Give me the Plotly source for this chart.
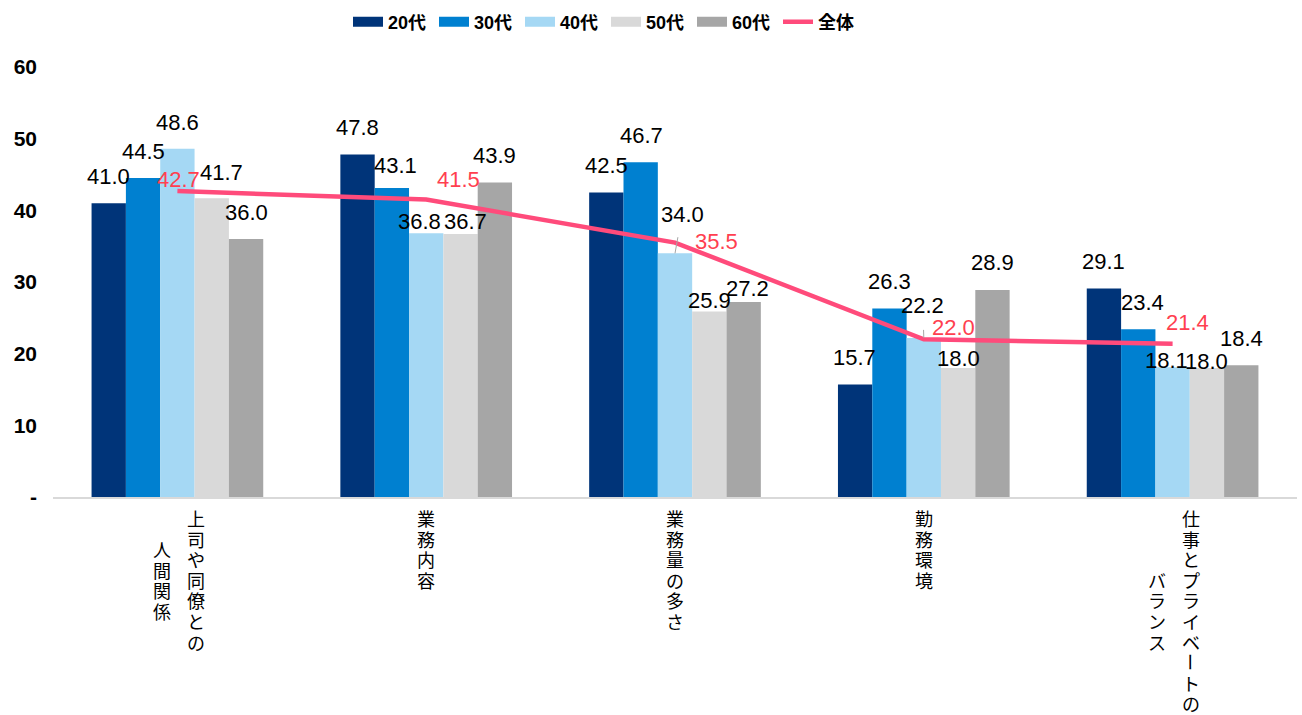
import plotly.graph_objects as go

# ---------------- data ----------------
category_lines = [
    ["上司や同僚との", "人間関係"],
    ["業務内容"],
    ["業務量の多さ"],
    ["勤務環境"],
    ["仕事とプライベートの", "バランス"],
]
categories = ["".join(c) for c in category_lines]

series_names = ["20代", "30代", "40代", "50代", "60代"]
v20 = [41.0, 47.8, 42.5, 15.7, 29.1]
v30 = [44.5, 43.1, 46.7, 26.3, 23.4]
v40 = [48.6, 36.8, 34.0, 22.2, 18.1]
v50 = [41.7, 36.7, 25.9, 18.0, 18.0]
v60 = [36.0, 43.9, 27.2, 28.9, 18.4]
total_name = "全体"
total = [42.7, 41.5, 35.5, 22.0, 21.4]

y_tickvals = [0, 10, 20, 30, 40, 50, 60]
y_ticktext = ["-", "10", "20", "30", "40", "50", "60"]

# ---------------- style ----------------
colors = ["#003479", "#0080D0", "#A5D8F4", "#D9D9D9", "#A6A6A6"]
line_color = "#FF4B7B"
red_text = "#FF3F50"
FONT_LAT = "Liberation Sans, Arial, Noto Sans CJK JP, sans-serif"
FONT_JP = "Noto Sans CJK JP, sans-serif"

W, H = 1302, 715
ML, MR, MT, MB = 53, 5, 67, 218
plot_w = W - ML - MR
plot_h = H - MT - MB
BARGAP = 0.31
bar_w = plot_w / len(categories) * (1 - BARGAP) / len(series_names)

# label nudges (dy = px above bar top for label centre, dx = px right)
DEFAULT_DY = 27
nudges = {
    (0, 2): (26.5, 0), (0, 3): (26, 10),
    (1, 1): (23, 4), (1, 2): (12, -7), (1, 3): (12, 5),
    (2, 1): (27, 1), (2, 2): (39, 7), (2, 3): (11, 0), (2, 4): (14, 4),
    (3, 0): (27, -1), (3, 2): (32, -1), (3, 3): (10, 0),
    (4, 1): (27, 4), (4, 2): (7, -6), (4, 3): (7, 0),
}
leaders = {(2, 2): 9, (3, 2): 10}  # startstandoff for leader lines
total_nudges = [(1, 11), (32, 20), (41, 1), (30, 12), (15, 21)]

all_series = [v20, v30, v40, v50, v60]
LABEL_SIZE = 22

fig = go.Figure()
for i, (name, vals) in enumerate(zip(series_names, all_series)):
    fig.add_trace(go.Bar(
        x=categories, y=vals, name=name, marker=dict(color=colors[i], line=dict(width=0)),
        showlegend=False, hoverinfo="skip",
    ))

# legend-only swatches
for i, name in enumerate(series_names):
    fig.add_trace(go.Scatter(
        x=[None], y=[None], mode="lines", name=name,
        line=dict(color=colors[i], width=10), showlegend=True,
    ))

fig.add_trace(go.Scatter(
    x=categories, y=total, mode="lines", name=total_name,
    line=dict(color=line_color, width=4.5), showlegend=True,
))

annotations = []
# bar labels
for i, vals in enumerate(all_series):
    for c, (cat, v) in enumerate(zip(categories, vals)):
        dy, dx = nudges.get((c, i), (DEFAULT_DY, 0))
        base_shift = (i - 2) * bar_w
        a = dict(x=cat, y=v, xref="x", yref="y", text=f"{v:.1f}",
                 font=dict(family=FONT_LAT, size=LABEL_SIZE, color="#000000"))
        if (c, i) in leaders:
            a.update(showarrow=True, ax=dx, ay=-dy, arrowhead=0, arrowwidth=1,
                     arrowcolor="#A6A6A6", startstandoff=leaders[(c, i)],
                     xshift=base_shift)
        else:
            a.update(showarrow=False, xshift=base_shift + dx, yshift=dy,
                     yanchor="middle", xanchor="center")
        annotations.append(a)

# total line labels
for c, (cat, v) in enumerate(zip(categories, total)):
    dx, dy = total_nudges[c]
    annotations.append(dict(x=cat, y=v, xref="x", yref="y", text=f"{v:.1f}",
                            showarrow=False, xshift=dx, yshift=dy,
                            xanchor="center", yanchor="middle",
                            font=dict(family=FONT_LAT, size=LABEL_SIZE, color=red_text)))

# vertical (tategaki) category labels, one annotation per character
CAT_SIZE = 18
STEP = 20.6
FIRST = 21          # px below the axis for the first character centre
COLGAP = 34
for cat, lines in zip(categories, category_lines):
    n = len(lines)
    L = max(len(s) for s in lines)
    for j, line in enumerate(lines):
        colx = ((n - 1) / 2 - j) * COLGAP + (1.5 if n > 1 else 0)
        start = FIRST + (L - len(line)) / 2 * STEP
        for k, ch in enumerate(line):
            annotations.append(dict(
                x=cat, y=0, xref="x", yref="paper", text=ch, showarrow=False,
                xanchor="center", yanchor="middle", xshift=colx,
                yshift=-(start + k * STEP),
                textangle=90 if ch == "ー" else 0,
                font=dict(family=FONT_JP, size=CAT_SIZE, color="#000000"),
            ))

fig.update_layout(
    width=W, height=H,
    margin=dict(l=ML, r=MR, t=MT, b=MB, autoexpand=False),
    paper_bgcolor="white", plot_bgcolor="white",
    barmode="group", bargap=BARGAP, bargroupgap=0,
    annotations=annotations,
    legend=dict(orientation="h", x=(348 - ML) / plot_w, y=(497 - 22) / plot_h,
                xanchor="left", yanchor="middle",
                font=dict(family=FONT_LAT, size=18, color="#000000", weight="bold"),
                entrywidth=41, entrywidthmode="pixels", tracegroupgap=0),
    xaxis=dict(type="category", showticklabels=False, ticks="", showline=True,
               linecolor="#D9D9D9", linewidth=2, showgrid=False, zeroline=False,
               fixedrange=True),
    yaxis=dict(range=[0, 60], tickvals=y_tickvals, ticktext=y_ticktext,
               showgrid=False, zeroline=False, showline=False, ticks="",
               ticklabelstandoff=15,
               tickfont=dict(family=FONT_LAT, size=21, color="#000000", weight="bold"),
               fixedrange=True),
    showlegend=True,
)

fig.write_html(
    "out.html",
    config={"displayModeBar": False},
    post_script="document.body.style.margin='0';document.body.style.overflow='hidden';",
)
